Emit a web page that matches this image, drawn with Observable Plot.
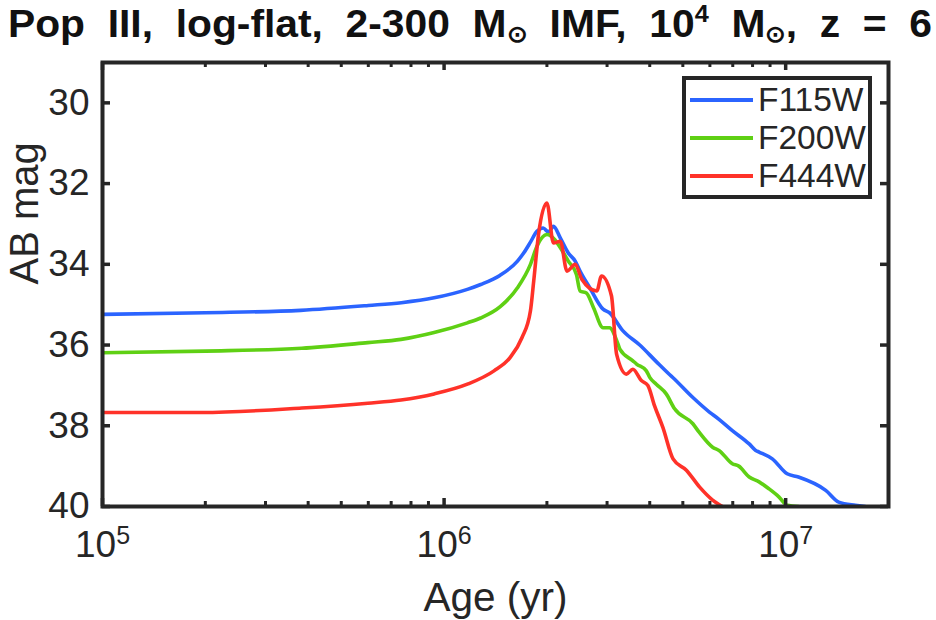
<!DOCTYPE html>
<html>
<head>
<meta charset="utf-8">
<script src="https://cdn.jsdelivr.net/npm/d3@7"></script>
<script src="https://cdn.jsdelivr.net/npm/@observablehq/plot@0.6"></script>
<style>
  html, body { margin: 0; padding: 0; background: #ffffff; }
  #wrap { position: relative; width: 936px; height: 620px; overflow: hidden;
          font-family: "Liberation Sans", Arial, Helvetica, sans-serif; color: #262626; }
  #chart { position: absolute; left: 0; top: 0; }
  #title { position: absolute; left: 8px; top: 5px; white-space: nowrap; font-weight: bold;
           font-size: 38px; line-height: 38px; transform-origin: 0 0; word-spacing: 0px;
           font-family: "Liberation Sans Narrow", "Liberation Sans", Arial, sans-serif; color: #111; }
  #title sub { font-size: 0.6em; vertical-align: -0.2em; line-height: 0; }
  #title sup { font-size: 0.62em; vertical-align: 0.62em; line-height: 0; }
  #legend { position: absolute; left: 682px; top: 76px; width: 190px; height: 123px;
            box-sizing: border-box; border: 4px solid #262626; background: #fff; }
  .row { position: absolute; left: 4px; height: 40px; display: flex; align-items: center; }
  .swatch { width: 63px; height: 4px; margin-right: 5px; }
  .lab { font-size: 33.5px; line-height: 40px; color: #262626; }
</style>
</head>
<body>
<div id="wrap">
  <div id="chart"></div>
  <div id="title"></div>
  <div id="legend"></div>
</div>
<script>
// ---- data ----
const bands = ["F115W", "F200W", "F444W"];
const bandColors = ["#2b64ff", "#5fd014", "#ff3229"];

const ageF115W = [1.0e5, 2.0e5, 3.8e5, 6.0e5, 7.5e5, 9.35e5, 1.17e6, 1.28e6, 1.46e6, 1.64e6, 1.71e6, 1.79e6, 1.87e6, 1.95e6, 2.02e6, 2.09e6, 2.19e6, 2.31e6, 2.42e6, 2.50e6, 2.67e6, 2.92e6, 3.05e6, 3.34e6, 3.74e6, 4.18e6, 4.57e6, 4.68e6, 5.35e6, 5.98e6, 6.38e6, 6.98e6, 7.82e6, 8.17e6, 8.36e6, 9.14e6, 1.01e7, 1.09e7, 1.31e7, 1.43e7, 1.60e7, 1.71e7];
const magF115W = [35.24, 35.20, 35.14, 35.02, 34.95, 34.83, 34.62, 34.50, 34.27, 33.92, 33.72, 33.45, 33.18, 33.10, 33.20, 33.06, 33.35, 33.72, 33.92, 34.17, 34.58, 35.11, 35.20, 35.65, 36.00, 36.41, 36.73, 36.81, 37.30, 37.66, 37.84, 38.12, 38.45, 38.61, 38.65, 38.82, 39.19, 39.27, 39.60, 39.89, 39.97, 40.0];

const ageF200W = [1.0e5, 2.0e5, 3.83e5, 5.98e5, 7.48e5, 9.35e5, 1.17e6, 1.28e6, 1.46e6, 1.64e6, 1.79e6, 1.87e6, 2.00e6, 2.11e6, 2.19e6, 2.31e6, 2.44e6, 2.50e6, 2.61e6, 2.74e6, 2.92e6, 3.05e6, 3.23e6, 3.27e6, 3.57e6, 3.66e6, 3.91e6, 4.00e6, 4.18e6, 4.47e6, 4.73e6, 5.35e6, 5.58e6, 6.11e6, 6.38e6, 6.98e6, 7.29e6, 7.82e6, 8.36e6, 8.93e6, 9.55e6, 1.01e7, 1.09e7];
const magF200W = [36.19, 36.15, 36.08, 35.94, 35.86, 35.69, 35.45, 35.33, 35.05, 34.58, 34.00, 33.55, 33.26, 33.39, 33.59, 33.92, 34.25, 34.66, 34.71, 35.08, 35.57, 35.57, 35.98, 36.10, 36.39, 36.47, 36.64, 36.80, 36.97, 37.21, 37.58, 37.95, 38.16, 38.53, 38.61, 38.94, 39.00, 39.27, 39.39, 39.56, 39.76, 39.97, 40.0];

const ageF444W = [1.0e5, 1.95e5, 3.83e5, 5.98e5, 7.48e5, 9.35e5, 1.17e6, 1.40e6, 1.56e6, 1.69e6, 1.79e6, 1.83e6, 1.89e6, 2.00e6, 2.09e6, 2.19e6, 2.29e6, 2.42e6, 2.53e6, 2.80e6, 2.89e6, 3.09e6, 3.20e6, 3.42e6, 3.57e6, 3.78e6, 3.95e6, 4.13e6, 4.37e6, 4.68e6, 5.12e6, 5.60e6, 6.11e6, 6.53e6];
const magF444W = [37.67, 37.67, 37.56, 37.44, 37.36, 37.21, 36.97, 36.64, 36.31, 35.82, 35.15, 34.41, 33.26, 32.48, 33.47, 33.43, 34.17, 34.00, 34.37, 34.66, 34.29, 34.78, 36.23, 36.72, 36.60, 36.88, 37.00, 37.50, 38.04, 38.82, 39.10, 39.52, 39.84, 40.0];

const xDomain = [1e5, 2e7];
const yDomain = [29, 40];
const xMajorTicks = [1e5, 1e6, 1e7];
const xMinorTicks = [2e5, 3e5, 4e5, 5e5, 6e5, 7e5, 8e5, 9e5, 2e6, 3e6, 4e6, 5e6, 6e6, 7e6, 8e6, 9e6];
const yTicks = [30, 32, 34, 36, 38, 40];

const titleHTML = "Pop&nbsp; III,&nbsp; log-flat,&nbsp; 2-300&nbsp; M<sub>⊙</sub>&nbsp; IMF,&nbsp; 10<sup>4</sup>&nbsp; M<sub>⊙</sub>,&nbsp; z&nbsp; =&nbsp; 6";
const xLabel = "Age (yr)";
const yLabel = "AB mag";

// ---- build table ----
const ages = [ageF115W, ageF200W, ageF444W];
const mags = [magF115W, magF200W, magF444W];
const rows = [];
bands.forEach((b, i) => ages[i].forEach((a, j) => rows.push({band: b, age: a, mag: mags[i][j]})));

const W = 936, H = 620, mL = 102, mR = 48, mT = 62, mB = 114;
const pw = W - mL - mR, ph = H - mT - mB;
const ink = "#262626";

const chart = Plot.plot({
  width: W, height: H,
  marginLeft: mL, marginRight: mR, marginTop: mT, marginBottom: mB,
  style: {fontFamily: '"Liberation Sans", Arial, sans-serif', color: ink, background: "transparent", overflow: "visible"},
  x: {type: "log", domain: xDomain},
  y: {domain: yDomain, reverse: true},
  color: {domain: bands, range: bandColors},
  marks: [
    Plot.line(rows, {x: "age", y: "mag", z: "band", stroke: "band", strokeWidth: 3.6, clip: true,
                     curve: "monotone-x", strokeLinejoin: "round"}),
    // inward ticks
    Plot.tickX(xMajorTicks, {x: d => d, insetTop: ph - 8, stroke: ink, strokeWidth: 3.5}),
    Plot.tickX(xMajorTicks, {x: d => d, insetBottom: ph - 8, stroke: ink, strokeWidth: 3.5}),
    Plot.tickX(xMinorTicks, {x: d => d, insetTop: ph - 5, stroke: ink, strokeWidth: 3}),
    Plot.tickX(xMinorTicks, {x: d => d, insetBottom: ph - 5, stroke: ink, strokeWidth: 3}),
    Plot.tickY(yTicks, {y: d => d, insetRight: pw - 8, stroke: ink, strokeWidth: 3.5}),
    Plot.tickY(yTicks, {y: d => d, insetLeft: pw - 8, stroke: ink, strokeWidth: 3.5}),
    Plot.frame({stroke: ink, strokeWidth: 4}),
    Plot.axisX({ticks: xMajorTicks, tickSize: 0, tickPadding: 24, fontSize: 37, label: null,
                tickFormat: d => "10^" + Math.round(Math.log10(d))}),
    Plot.axisY({ticks: yTicks, tickSize: 0, tickPadding: 13, fontSize: 37, label: null, tickFormat: d => String(d)}),
    Plot.text([xLabel], {text: d => d, frameAnchor: "bottom", lineAnchor: "bottom", dy: 104, fontSize: 40.5, fill: ink}),
    Plot.text([yLabel], {text: d => d, frameAnchor: "left", lineAnchor: "bottom", rotate: -90, dx: -65, fontSize: 40, fill: ink})
  ]
});
document.getElementById("chart").appendChild(chart);

// superscript exponents on x tick labels
chart.querySelectorAll('g[aria-label="x-axis tick label"] text').forEach(t => {
  const s = t.textContent;
  const k = s.indexOf("^");
  if (k < 0) return;
  const base = s.slice(0, k), exp = s.slice(k + 1);
  while (t.firstChild) t.removeChild(t.firstChild);
  const ns = "http://www.w3.org/2000/svg";
  const a = document.createElementNS(ns, "tspan"); a.textContent = base;
  const b = document.createElementNS(ns, "tspan"); b.textContent = exp;
  b.setAttribute("dy", "-13"); b.setAttribute("font-size", "25");
  t.appendChild(a); t.appendChild(b);
});

// title
const title = document.getElementById("title");
title.innerHTML = titleHTML;
const tw = title.getBoundingClientRect().width;
title.style.transform = `scaleX(${924 / tw})`;

// legend
const legend = document.getElementById("legend");
const rowCenters = [24, 62, 100];
bands.forEach((b, i) => {
  const r = document.createElement("div");
  r.className = "row";
  r.style.top = (rowCenters[i] - 4 - 20) + "px";
  const sw = document.createElement("div"); sw.className = "swatch"; sw.style.background = bandColors[i];
  const lb = document.createElement("span"); lb.className = "lab"; lb.textContent = b;
  r.appendChild(sw); r.appendChild(lb);
  legend.appendChild(r);
});
</script>
</body>
</html>
